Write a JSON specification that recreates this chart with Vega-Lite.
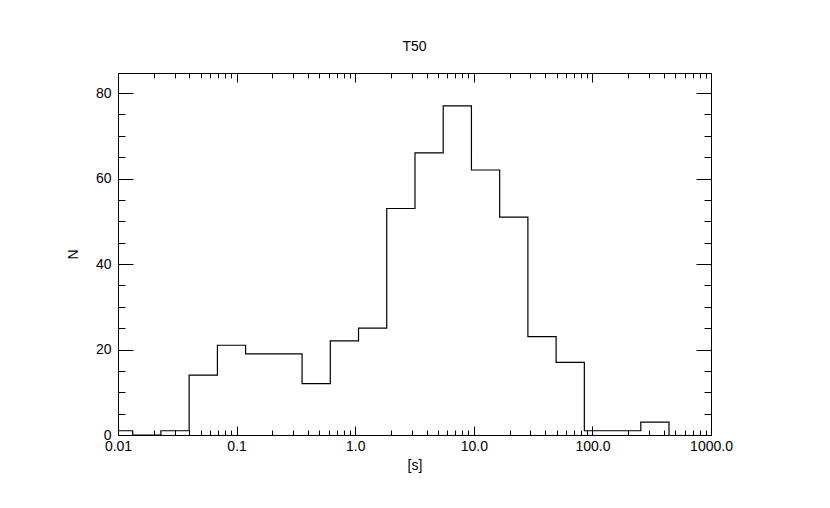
{
  "$schema": "https://vega.github.io/schema/vega-lite/v6.json",
  "width": 593,
  "height": 362,
  "autosize": "none",
  "padding": {"left": 118, "top": 73, "right": 119, "bottom": 73},
  "background": "white",
  "config": {
    "font": "Liberation Sans",
    "view": {"stroke": null},
    "axis": {"domainColor": "black", "tickColor": "black", "labelColor": "black", "titleColor": "black", "grid": false, "labelFont": "Liberation Sans", "titleFont": "Liberation Sans", "labelFontSize": 14, "titleFontSize": 14, "titleFontWeight": "normal", "domainWidth": 1, "tickWidth": 1}
  },
  "title": {"text": "T50", "font": "Liberation Sans", "fontSize": 14, "fontWeight": "normal", "color": "black", "frame": "group", "anchor": "middle", "baseline": "alphabetic", "offset": 8},
  "data": {
    "values": [
      {"t": 0.00769, "n": 1},
      {"t": 0.0133, "n": 0},
      {"t": 0.0230, "n": 1},
      {"t": 0.0398, "n": 14},
      {"t": 0.0689, "n": 21},
      {"t": 0.1191, "n": 19},
      {"t": 0.2061, "n": 19},
      {"t": 0.3565, "n": 12},
      {"t": 0.6166, "n": 22},
      {"t": 1.0666, "n": 25},
      {"t": 1.845, "n": 53},
      {"t": 3.192, "n": 66},
      {"t": 5.521, "n": 77},
      {"t": 9.550, "n": 62},
      {"t": 16.52, "n": 51},
      {"t": 28.58, "n": 23},
      {"t": 49.43, "n": 17},
      {"t": 85.51, "n": 1},
      {"t": 147.9, "n": 1},
      {"t": 255.9, "n": 3},
      {"t": 442.6, "n": 0}
    ]
  },
  "layer": [
    {
      "mark": {"type": "line", "interpolate": "step-after", "clip": true, "color": "black", "strokeWidth": 1.2},
      "encoding": {
        "x": {
          "field": "t", "type": "quantitative",
          "scale": {"type": "log", "domain": [0.01, 1000], "nice": false},
          "axis": {
            "orient": "bottom", "title": "[s]", "titleX": 296.5, "titleY": 30, "titleBaseline": "middle", "titleAnchor": null,
            "values": [0.01,0.02,0.03,0.04,0.05,0.06,0.07,0.08,0.09,0.1,0.2,0.3,0.4,0.5,0.6,0.7,0.8,0.9,1,2,3,4,5,6,7,8,9,10,20,30,40,50,60,70,80,90,100,200,300,400,500,600,700,800,900,1000],
            "labelExpr": "datum.value == 0.01 ? '0.01' : datum.value == 0.1 ? '0.1' : datum.value == 1 ? '1.0' : datum.value == 10 ? '10.0' : datum.value == 100 ? '100.0' : datum.value == 1000 ? '1000.0' : ''",
            "labelOverlap": false, "labelFlush": false, "labelBound": false, "labelPadding": 13,
            "tickSize": {"condition": {"test": "indexof([0.01,0.1,1,10,100,1000], datum.value) >= 0", "value": -9}, "value": -5}
          }
        },
        "y": {
          "field": "n", "type": "quantitative",
          "scale": {"domain": [0, 84.7], "nice": false, "zero": true},
          "axis": {
            "orient": "left", "title": "N", "titleX": -44.5, "titleY": 181, "titleBaseline": "middle", "titleAngle": -90, "titleAnchor": null,
            "values": [0,5,10,15,20,25,30,35,40,45,50,55,60,65,70,75,80],
            "labelExpr": "datum.value % 20 == 0 ? datum.value + '' : ''",
            "labelOverlap": false, "labelFlush": false, "labelBound": false, "labelPadding": 22,
            "tickSize": {"condition": {"test": "datum.value % 20 == 0", "value": -15}, "value": -7}
          }
        }
      }
    },
    {
      "mark": {"type": "line", "interpolate": "step-after", "clip": true, "strokeOpacity": 0},
      "encoding": {
        "x": {
          "field": "t", "type": "quantitative",
          "scale": {"type": "log", "domain": [0.01, 1000], "nice": false},
          "axis": {
            "orient": "top", "title": null, "labels": false,
            "values": [0.01,0.02,0.03,0.04,0.05,0.06,0.07,0.08,0.09,0.1,0.2,0.3,0.4,0.5,0.6,0.7,0.8,0.9,1,2,3,4,5,6,7,8,9,10,20,30,40,50,60,70,80,90,100,200,300,400,500,600,700,800,900,1000],
            "tickSize": {"condition": {"test": "indexof([0.01,0.1,1,10,100,1000], datum.value) >= 0", "value": -9}, "value": -5}
          }
        },
        "y": {
          "field": "n", "type": "quantitative",
          "scale": {"domain": [0, 84.7], "nice": false, "zero": true},
          "axis": {
            "orient": "right", "title": null, "labels": false,
            "values": [0,5,10,15,20,25,30,35,40,45,50,55,60,65,70,75,80],
            "tickSize": {"condition": {"test": "datum.value % 20 == 0", "value": -15}, "value": -7}
          }
        }
      }
    }
  ],
  "resolve": {"axis": {"x": "independent", "y": "independent"}}
}
